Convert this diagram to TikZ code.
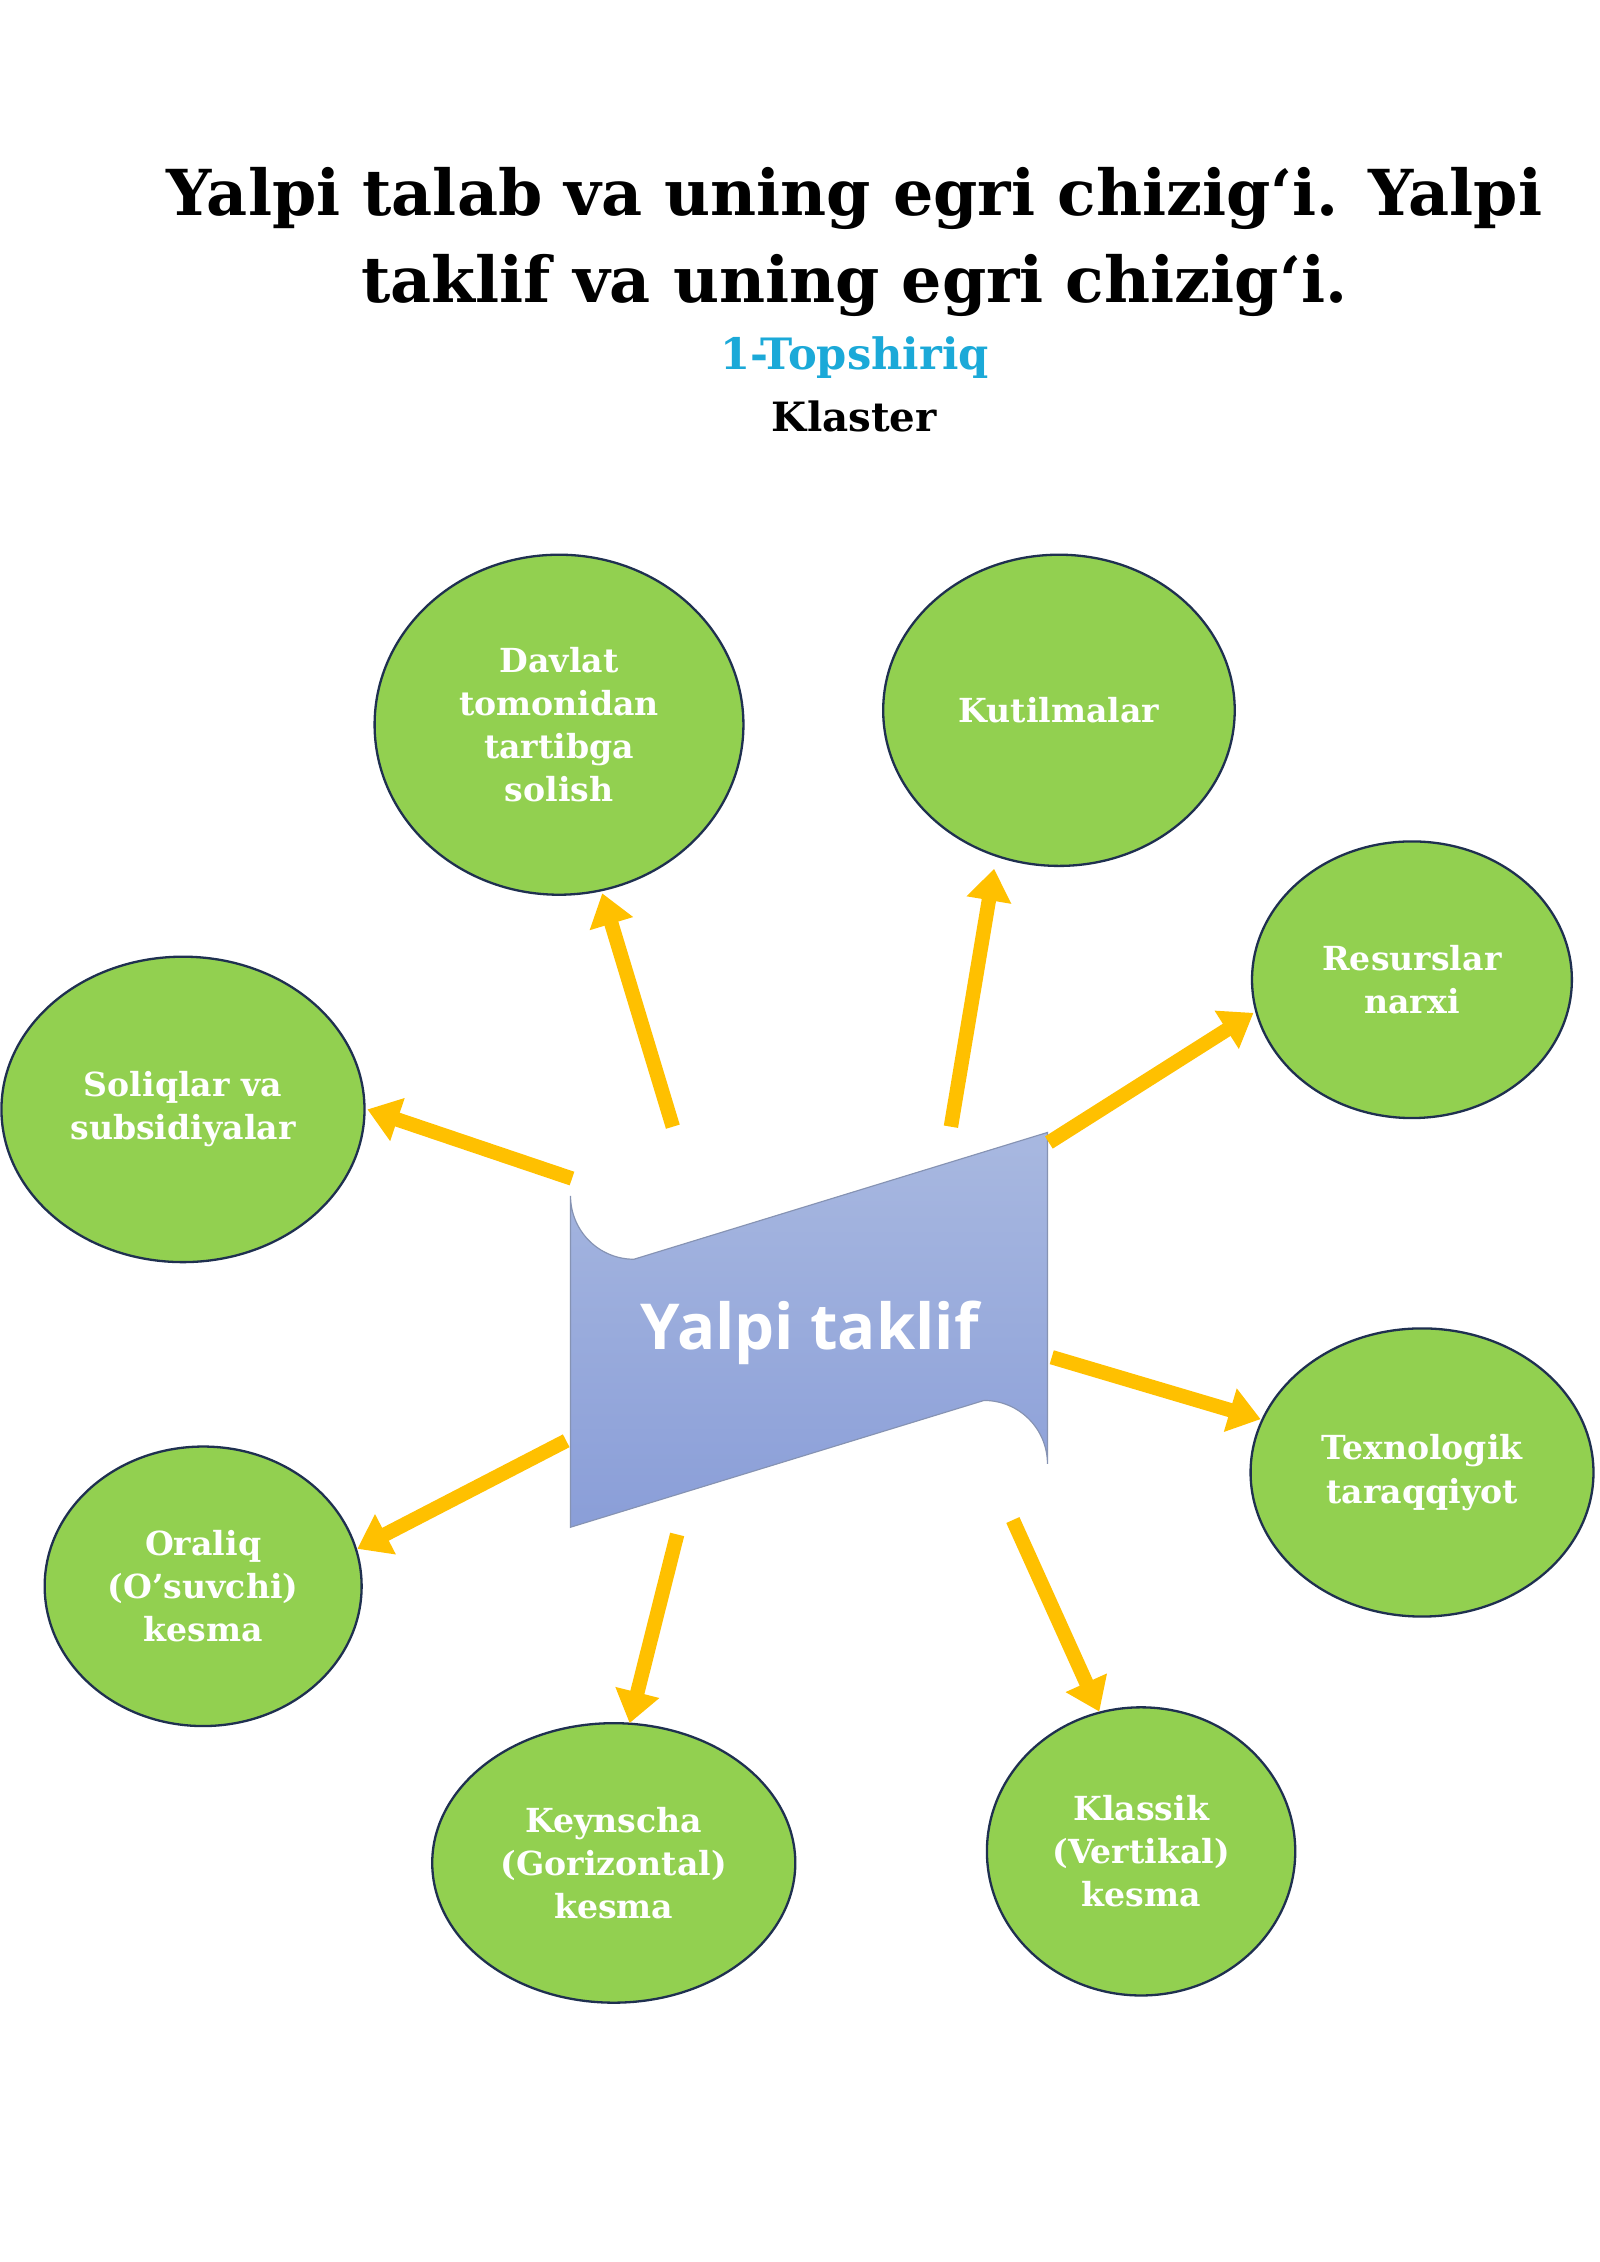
\documentclass[tikz,border=0pt]{standalone}
\usepackage{fontspec}
\setmainfont{DejaVu Serif}
\setsansfont{Open Sans}
\usetikzlibrary{shapes.geometric,arrows.meta}
\definecolor{yashil}{HTML}{92D050}
\definecolor{chegara}{HTML}{1F3050}
\definecolor{sariq}{HTML}{FFC000}
\definecolor{kok}{HTML}{1BA9D8}
\definecolor{kokA}{HTML}{A8B8E0}
\definecolor{kokB}{HTML}{8A9ED8}
\begin{document}
\begin{tikzpicture}
[x=0.5pt,y=-0.5pt,
 el/.style={draw=chegara,line width=0.8pt,fill=yashil,ellipse,text=white,
   font=\bfseries\fontsize{11.5}{15}\selectfont,align=center,inner sep=0pt},
 ar/.style={draw=sariq,line width=5pt,-{Triangle[length=11pt,width=15pt]}}]
\useasboundingbox (0,0) rectangle (1110,1570);
\fill[white] (0,0) rectangle (1110,1570);

% sarlavha
\node[font=\bfseries\fontsize{22}{30}\selectfont,align=center] (sar) at (593,168)
  {Yalpi talab va uning egri chizig‘i. Yalpi\\taklif va uning egri chizig‘i.};
\node[font=\bfseries\fontsize{15}{18}\selectfont,text=kok] (top) at (593,248) {1-Topshiriq};
\node[font=\bfseries\fontsize{14}{18}\selectfont] (kl) at (593,289) {Klaster};

% markaz
\shade[top color=kokA,bottom color=kokB,draw=kokA!80!black,line width=0.4pt]
  (396,1060) -- (396,830) arc[start angle=180,end angle=90,radius=44]
  -- (727,786) -- (727,1016) arc[start angle=0,end angle=-90,radius=44] -- cycle;
\node[text=white,font=\sffamily\bfseries\fontsize{22}{26}\selectfont] (M) at (562,925) {Yalpi taklif};

% doiralar
\node[el,minimum width=256pt*0.5,minimum height=236pt*0.5] (D) at (388,503) {Davlat\\tomonidan\\tartibga\\solish};
\node[el,minimum width=122pt,minimum height=108pt] (K) at (735,493) {Kutilmalar};
\node[el,minimum width=111pt,minimum height=96pt] (R) at (980,680) {Resurslar\\narxi};
\node[el,minimum width=126pt,minimum height=106pt] (S) at (127,770) {Soliqlar va\\subsidiyalar};
\node[el,minimum width=119pt,minimum height=100pt] (T) at (987,1022) {Texnologik\\taraqqiyot};
\node[el,minimum width=110pt,minimum height=97pt] (O) at (141,1101) {Oraliq\\(O'suvchi)\\kesma};
\node[el,minimum width=126pt,minimum height=97pt] (G) at (426,1293) {Keynscha\\(Gorizontal)\\kesma};
\node[el,minimum width=107pt,minimum height=100pt] (V) at (792,1285) {Klassik\\(Vertikal)\\kesma};

% strelkalar
\coordinate (a1) at (467,782); \coordinate (b1) at (418,620);
\coordinate (a2) at (660,782); \coordinate (b2) at (690,603);
\coordinate (a3) at (728,793); \coordinate (b3) at (870,703);
\coordinate (a4) at (397,818); \coordinate (b4) at (255,770);
\coordinate (a5) at (730,942); \coordinate (b5) at (875,985);
\coordinate (a6) at (393,1000); \coordinate (b6) at (248,1075);
\coordinate (a7) at (470,1065); \coordinate (b7) at (437,1196);
\coordinate (a8) at (703,1055); \coordinate (b8) at (763,1188);
\foreach \i in {1,...,8}
  \draw[ar] (a\i) -- (b\i);
\end{tikzpicture}
\end{document}
